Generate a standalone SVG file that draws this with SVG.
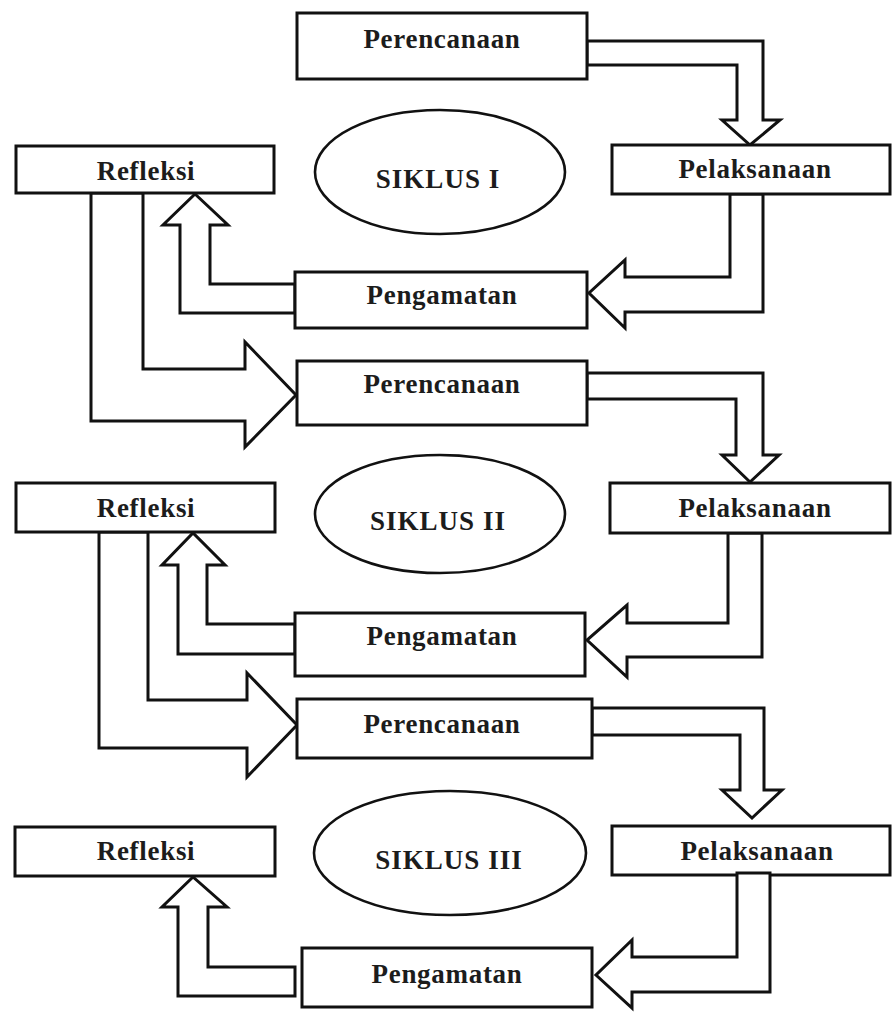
<svg xmlns="http://www.w3.org/2000/svg" width="893" height="1012" viewBox="0 0 893 1012">
<style>
.box{fill:#fff;stroke:#111;stroke-width:3}
.ell{fill:#fff;stroke:#111;stroke-width:2.6}
.conn{fill:#fff;stroke:#111;stroke-width:3;stroke-linejoin:miter}
.t{font-family:"Liberation Serif","Times New Roman",serif;font-weight:bold;font-size:27px;letter-spacing:0.7px;fill:#1c1c1c;text-anchor:middle}
.s{font-family:"Liberation Serif","Times New Roman",serif;font-weight:bold;font-size:27px;letter-spacing:1px;fill:#1c1c1c;text-anchor:middle}
</style>
<rect width="893" height="1012" fill="#fff"/>
<g id="connectors">
<polygon class="conn" points="587,41 763,41 763,120 780,120 750,145 722,120 737,120 737,65 587,65"/>
<polygon class="conn" points="730,194 730,277 625,277 625,260 589,293 625,328 625,312 763,312 763,194"/>
<polygon class="conn" points="295,284 210,284 210,225 228,225 195,194 163,225 180,225 180,313 295,313"/>
<polygon class="conn" points="143,193 143,369 245,369 245,342 296,395 245,447 245,421 91,421 91,193"/>
<polygon class="conn" points="587,373 763,373 763,455 779,455 750,482 722,455 736,455 736,399 587,399"/>
<polygon class="conn" points="728,533 728,623 627,623 627,605 587,640 627,677 627,657 762,657 762,533"/>
<polygon class="conn" points="295,624 207,624 207,565 225,565 193,533 162,565 178,565 178,654 295,654"/>
<polygon class="conn" points="148,532 148,700 247,700 247,673 297,725 247,777 247,748 99,748 99,532"/>
<polygon class="conn" points="592,708 764,708 764,790 782,790 752,818 722,790 740,790 740,735 592,735"/>
<polygon class="conn" points="295,967 208,967 208,907 227,907 193,877 162,907 178,907 178,996 295,996"/>
</g>
<g id="perencanaan1"><rect class="box" x="297" y="13" width="290" height="66"/><text class="t" x="442" y="48">Perencanaan</text></g>
<g id="siklus1"><ellipse class="ell" cx="440" cy="172" rx="125" ry="62"/><text class="s" x="438" y="188">SIKLUS I</text></g>
<g id="pelaksanaan1"><rect class="box" x="612" y="145" width="278" height="49"/><text class="t" x="755" y="178">Pelaksanaan</text></g>
<g id="refleksi1"><rect class="box" x="16" y="146" width="258" height="47"/><text class="t" x="146" y="180">Refleksi</text></g>
<g id="pengamatan1"><rect class="box" x="295" y="272" width="292" height="56"/><text class="t" x="442" y="304">Pengamatan</text></g>
<g id="perencanaan2"><rect class="box" x="297" y="361" width="290" height="64"/><text class="t" x="442" y="393">Perencanaan</text></g>
<g id="siklus2"><ellipse class="ell" cx="440" cy="514" rx="125" ry="59"/><text class="s" x="438" y="530">SIKLUS II</text></g>
<g id="pelaksanaan2"><rect class="box" x="610" y="483" width="280" height="50"/><text class="t" x="755" y="517">Pelaksanaan</text></g>
<g id="refleksi2"><rect class="box" x="16" y="483" width="259" height="49"/><text class="t" x="146" y="517">Refleksi</text></g>
<g id="pengamatan2"><rect class="box" x="295" y="613" width="290" height="63"/><text class="t" x="442" y="645">Pengamatan</text></g>
<g id="perencanaan3"><rect class="box" x="297" y="699" width="295" height="59"/><text class="t" x="442" y="733">Perencanaan</text></g>
<g id="siklus3"><ellipse class="ell" cx="450" cy="853" rx="136" ry="62"/><text class="s" x="449" y="869">SIKLUS III</text></g>
<g id="pelaksanaan3"><rect class="box" x="612" y="826" width="278" height="49"/><text class="t" x="757" y="860">Pelaksanaan</text></g>
<g id="refleksi3"><rect class="box" x="15" y="827" width="260" height="49"/><text class="t" x="146" y="860">Refleksi</text></g>
<g id="pengamatan3"><rect class="box" x="302" y="948" width="290" height="59"/><text class="t" x="447" y="983">Pengamatan</text></g>
<g id="connector-overlay"><polygon class="conn" points="737,873 737,957 632,957 632,940 596,975 632,1008 632,992 770,992 770,873"/></g>
</svg>
